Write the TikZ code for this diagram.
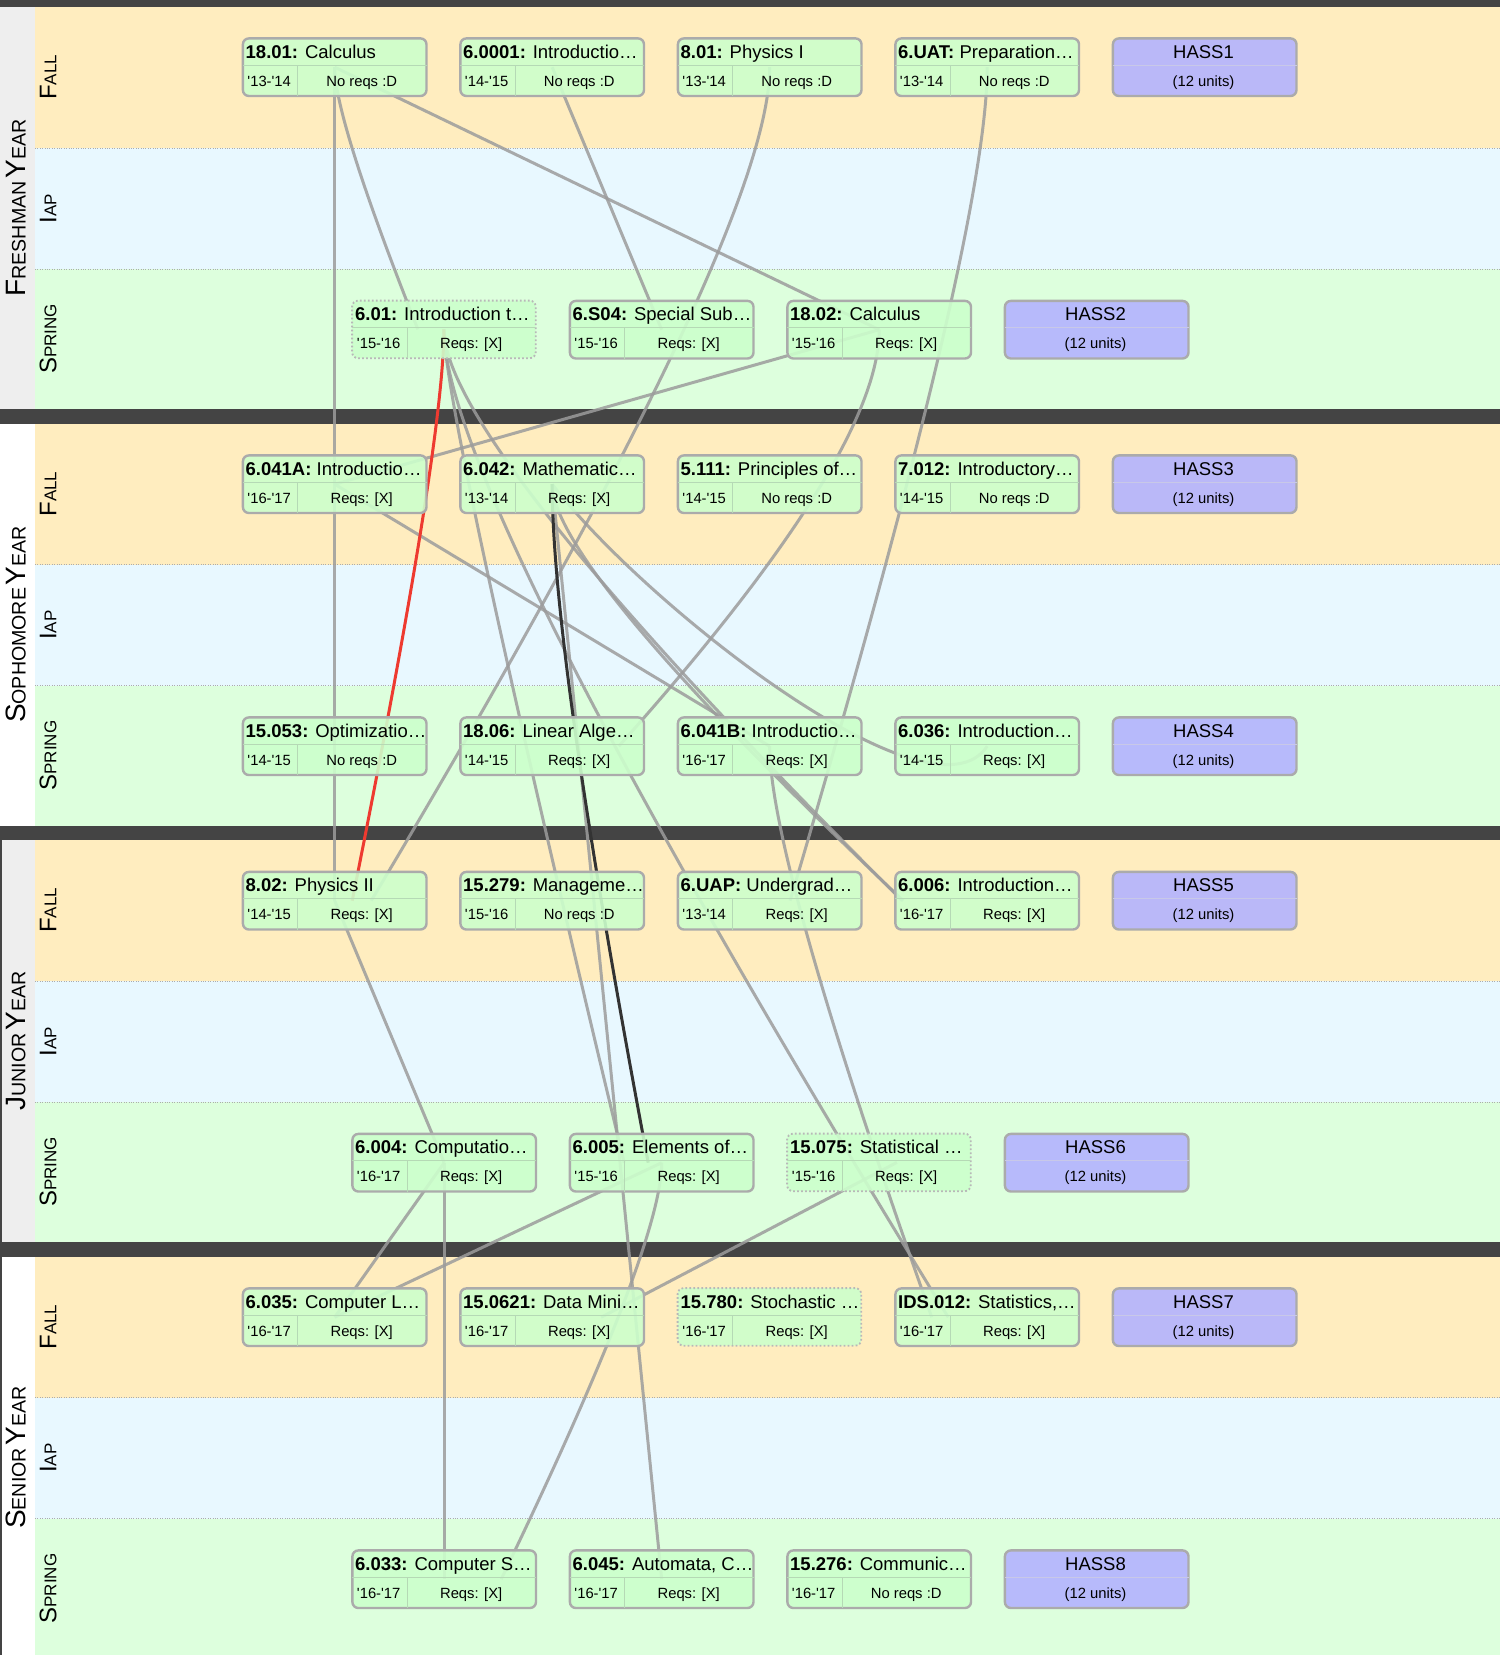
\documentclass[tikz,border=0pt]{standalone}
\usepackage{fontspec}
\newfontfamily\lsans{Liberation Sans}
\usetikzlibrary{calc}

\definecolor{fallc}{HTML}{FFEDBF}
\definecolor{iapc}{HTML}{E8F8FF}
\definecolor{sprc}{HTML}{DDFFDD}
\definecolor{sidec}{HTML}{EEEEEE}
\definecolor{barc}{HTML}{444444}
\definecolor{boxc}{HTML}{CCFFCC}
\definecolor{hassc}{HTML}{B3B3FF}
\definecolor{edgec}{HTML}{9C9C9C}
\definecolor{rimc}{HTML}{ABABAB}
\definecolor{divc}{HTML}{B5D9B5}
\definecolor{hdivc}{HTML}{C8C8E8}
\definecolor{redc}{HTML}{EE3A30}
\definecolor{darkc}{HTML}{333333}

\pgfdeclarelayer{bands}
\pgfdeclarelayer{links}
\pgfsetlayers{bands,links,main}

\newcommand\yrbig[1]{{\fontsize{28}{30}\selectfont #1}}
\newcommand\yrsmall[1]{{\fontsize{19.6}{30}\selectfont #1}}
\newcommand\sebig[1]{{\fontsize{24}{26}\selectfont #1}}
\newcommand\sesmall[1]{{\fontsize{17}{26}\selectfont #1}}

% course box: name, left x, top y, number, title, term, reqs, extra border style
\newcommand\course[8]{%
  \node[cbox,#8] (#1) at (#2+1.2,#3+1.2) {};
  \draw[divline] ($(#1.north west)+(1.2,28)$) -- ($(#1.north east)+(-1.2,28)$);
  \draw[divline] ($(#1.north west)+(56,28)$) -- ($(#1.south west)+(56,-1.2)$);
  \node[ttl] (#1-t) at ($(#1.north west)+(3.8,21.2)$) {\textbf{#4:} #5};
  \node[sml] (#1-y) at ($(#1.north west)+(27.5,48.8)$) {#6};
  \node[sml] (#1-r) at ($(#1.north west)+(120,48.8)$) {#7};
}
% elective placeholder box: name, left x, top y, label
\newcommand\hass[4]{%
  \node[cbox,fill=hassc] (#1) at (#2+1.2,#3+1.2) {};
  \draw[divline,draw=hdivc] ($(#1.north west)+(1.2,28)$) -- ($(#1.north east)+(-1.2,28)$);
  \node[hsl] (#1-t) at ($(#1.north west)+(91.8,21.2)$) {#4};
  \node[sml] (#1-u) at ($(#1.north west)+(91.8,48.8)$) {(12 units)};
}
% bowed prerequisite link: [style] from, to, bow factor, x shift of the lower end
\newcommand\qlink[5][edge]{%
  \coordinate (qe) at ($(#3.center)+(#5,0)$);
  \coordinate (qc) at ($(#2.center)!#4!(#2.center|-qe)$);
  \draw[#1] (#2.center) .. controls ($(#2.center)!0.6667!(qc)$) and ($(qe)!0.6667!(qc)$) .. (qe);
}

\begin{document}
\begin{tikzpicture}[x=1pt,y=-1pt,
  cbox/.style={draw=rimc, line width=2.4pt, fill=boxc, fill opacity=0.9,
    rounded corners=6pt, minimum width=183.6pt, minimum height=57.6pt,
    inner sep=0pt, anchor=north west},
  dotbox/.style={draw=rimc!85, line width=1.8pt, dash pattern=on 1.8pt off 2.2pt},
  divline/.style={draw=divc, line width=1.2pt},
  ttl/.style={anchor=base west, inner sep=0pt, font=\lsans\fontsize{18.5}{20}\selectfont},
  hsl/.style={anchor=base, inner sep=0pt, font=\lsans\fontsize{18.5}{20}\selectfont},
  sml/.style={anchor=base, inner sep=0pt, font=\lsans\fontsize{14.8}{16}\selectfont},
  lab/.style={rotate=90, inner sep=0pt, font=\lsans},
  edge/.style={draw=edgec, line width=3pt, draw opacity=0.85},
  badedge/.style={draw=redc, line width=3pt},
  hotedge/.style={draw=darkc, line width=3pt},
  sepline/.style={draw=gray!65, line width=0.9pt, dash pattern=on 1pt off 1.4pt},
]
\useasboundingbox (0,0) rectangle (1500,1655);

% ---------- year bands ----------
\begin{pgfonlayer}{bands}
\fill[barc] (0,0) rectangle (1500,7);
\foreach \yy/\side in {7/sidec, 423.5/white, 840/sidec, 1256.5/white}{
  \fill[fallc] (35,\yy) rectangle (1500,\yy+141);
  \fill[iapc] (35,\yy+141) rectangle (1500,\yy+262);
  \fill[sprc] (35,\yy+262) rectangle (1500,\yy+402);
  \fill[\side] (0,\yy) rectangle (35,\yy+402);
  \draw[sepline] (35,\yy+141) -- (1500,\yy+141);
  \draw[sepline] (35,\yy+262) -- (1500,\yy+262);
}
\fill[barc] (0,409) rectangle (1500,423.5);
\fill[barc] (0,825.5) rectangle (1500,840);
\fill[barc] (0,1242) rectangle (1500,1256.5);
\draw[barc, line width=1.6pt] (0.8,833) -- (0.8,1655);
\end{pgfonlayer}

% ---------- year and term labels ----------
\node[lab] (y1) at (16,208) {\yrbig{F}\yrsmall{RESHMAN} \yrbig{Y}\yrsmall{EAR}};
\node[lab] (y2) at (16,624.5) {\yrbig{S}\yrsmall{OPHOMORE} \yrbig{Y}\yrsmall{EAR}};
\node[lab] (y3) at (16,1041) {\yrbig{J}\yrsmall{UNIOR} \yrbig{Y}\yrsmall{EAR}};
\node[lab] (y4) at (16,1457.5) {\yrbig{S}\yrsmall{ENIOR} \yrbig{Y}\yrsmall{EAR}};
\foreach \yy [count=\i] in {7, 423.5, 840, 1256.5}{
  \node[lab] (fa\i) at (48,\yy+70.5) {\sebig{F}\sesmall{ALL}};
  \node[lab] (ia\i) at (48,\yy+201.5) {\sebig{I}\sesmall{AP}};
  \node[lab] (sp\i) at (48,\yy+332) {\sebig{S}\sesmall{PRING}};
}

% ---------- freshman ----------
\course{c1801}{240.5}{36}{18.01}{Calculus}{'13-'14}{No reqs :D}{}
\course{c60001}{458}{36}{6.0001}{Introductio…}{'14-'15}{No reqs :D}{}
\course{c801}{675.5}{36}{8.01}{Physics I}{'13-'14}{No reqs :D}{}
\course{c6uat}{893}{36}{6.UAT}{Preparation…}{'13-'14}{No reqs :D}{}
\hass{h1}{1110.5}{36}{HASS1}
\course{c601}{350}{298.5}{6.01}{Introduction t…}{'15-'16}{Reqs: [X]}{dotbox}
\course{c6s04}{567.5}{298.5}{6.S04}{Special Sub…}{'15-'16}{Reqs: [X]}{}
\course{c1802}{785}{298.5}{18.02}{Calculus}{'15-'16}{Reqs: [X]}{}
\hass{h2}{1002.5}{298.5}{HASS2}
% ---------- sophomore ----------
\course{c6041a}{240.5}{453}{6.041A}{Introductio…}{'16-'17}{Reqs: [X]}{}
\course{c6042}{458}{453}{6.042}{Mathematic…}{'13-'14}{Reqs: [X]}{}
\course{c5111}{675.5}{453}{5.111}{Principles of…}{'14-'15}{No reqs :D}{}
\course{c7012}{893}{453}{7.012}{Introductory…}{'14-'15}{No reqs :D}{}
\hass{h3}{1110.5}{453}{HASS3}
\course{c15053}{240.5}{715}{15.053}{Optimizatio…}{'14-'15}{No reqs :D}{}
\course{c1806}{458}{715}{18.06}{Linear Alge…}{'14-'15}{Reqs: [X]}{}
\course{c6041b}{675.5}{715}{6.041B}{Introductio…}{'16-'17}{Reqs: [X]}{}
\course{c6036}{893}{715}{6.036}{Introduction…}{'14-'15}{Reqs: [X]}{}
\hass{h4}{1110.5}{715}{HASS4}
% ---------- junior ----------
\course{c802}{240.5}{869.5}{8.02}{Physics II}{'14-'15}{Reqs: [X]}{}
\course{c15279}{458}{869.5}{15.279}{Manageme…}{'15-'16}{No reqs :D}{}
\course{c6uap}{675.5}{869.5}{6.UAP}{Undergrad…}{'13-'14}{Reqs: [X]}{}
\course{c6006}{893}{869.5}{6.006}{Introduction…}{'16-'17}{Reqs: [X]}{}
\hass{h5}{1110.5}{869.5}{HASS5}
\course{c6004}{350}{1131.5}{6.004}{Computatio…}{'16-'17}{Reqs: [X]}{}
\course{c6005}{567.5}{1131.5}{6.005}{Elements of…}{'15-'16}{Reqs: [X]}{}
\course{c15075}{785}{1131.5}{15.075}{Statistical …}{'15-'16}{Reqs: [X]}{dotbox}
\hass{h6}{1002.5}{1131.5}{HASS6}
% ---------- senior ----------
\course{c6035}{240.5}{1286}{6.035}{Computer L…}{'16-'17}{Reqs: [X]}{}
\course{c150621}{458}{1286}{15.0621}{Data Mini…}{'16-'17}{Reqs: [X]}{}
\course{c15780}{675.5}{1286}{15.780}{Stochastic …}{'16-'17}{Reqs: [X]}{dotbox}
\course{cids012}{893}{1286}{IDS.012}{Statistics,…}{'16-'17}{Reqs: [X]}{}
\hass{h7}{1110.5}{1286}{HASS7}
\course{c6033}{350}{1548}{6.033}{Computer S…}{'16-'17}{Reqs: [X]}{}
\course{c6045}{567.5}{1548}{6.045}{Automata, C…}{'16-'17}{Reqs: [X]}{}
\course{c15276}{785}{1548}{15.276}{Communic…}{'16-'17}{No reqs :D}{}
\hass{h8}{1002.5}{1548}{HASS8}

% ---------- prerequisite links (under the boxes) ----------
\begin{pgfonlayer}{links}
\draw[edge] (c1801.center) -- (c802.center);
\qlink{c1801}{c601}{0.2}{-26}
\draw[edge] (c1801.center) -- (c1802.center);
\draw[edge] (c60001.center) -- (c6s04.center);
\qlink{c801}{c802}{0.2}{36.5}
\qlink{c6uat}{c6uap}{0.2}{20.4}
\draw[edge] (c1802.center) -- (c6041a.center);
\qlink{c1802}{c1806}{0.3}{66.6}
\draw[edge] (c6041a.center) -- (c6041b.center);
\qlink{c601}{c6005}{0.1}{-37.5}
\qlink{c601}{cids012}{0.17}{-39}
\draw[edge] (c6042.center) -- (c6045.center);
\qlink{c601}{c6006}{0.2}{-85}
\qlink{c6042}{c6006}{0.2}{-84}
\draw[edge] (c6042.center) .. controls ($(c6042.center)+(89,117)$) and ($(c6036.center)+(-56,85)$) .. (c6036.center);
\draw[edge] (c802.center) -- (c6004.center);
\draw[edge] (c6004.center) -- (c6033.center);
\draw[edge] (c6004.center) -- (c6035.center);
\draw[edge] (c6005.center) -- (c6035.center);
\qlink{c6005}{c6033}{0.2}{57}
\draw[edge] ($(c15075.center)+(18,0)$) -- ($(c150621.center)+(49,0)$);
\qlink{c6041b}{cids012}{0.2}{-55.5}
\qlink[badedge]{c601}{c802}{0.2}{17.5}
\qlink[hotedge]{c6042}{c6005}{0.25}{-13.5}
\end{pgfonlayer}
\end{tikzpicture}
\end{document}
